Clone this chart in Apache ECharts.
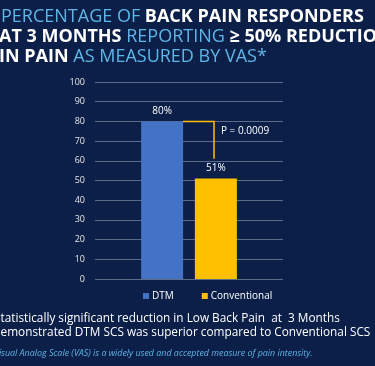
<!DOCTYPE html>
<html><head><meta charset="utf-8">
<style>html,body{margin:0;padding:0;background:#0b1f48;}#c{width:375px;height:366px;}</style>
<script src="https://cdn.jsdelivr.net/npm/echarts@6/dist/echarts.min.js"></script>
</head><body><div id="c"></div>
<script>
const categories = ['Responders'];
const seriesNames = ['DTM', 'Conventional'];
const dtmValues = [80];
const conventionalValues = [51];
const yTicks = [0, 10, 20, 30, 40, 50, 60, 70, 80, 90, 100];
const pValueText = 'P = 0.0009';
const bracketBottom = 61;
const pLabelValue = 75;

const chart = echarts.init(document.getElementById('c'), null, {renderer: 'canvas'});
const F = '"Open Sans", Lato, sans-serif';
const option = {
  backgroundColor: '#0b1f48',
  animation: false,
  grid: {left: 95, right: 92, top: 82, bottom: 87},
  legend: {
    data: seriesNames, bottom: 60, left: 138, itemWidth: 6, itemHeight: 6, itemGap: 28,
    icon: 'rect', textStyle: {color: '#ffffff', fontSize: 10, fontFamily: F, padding: [0,0,0,-2]}
  },
  xAxis: {type: 'category', data: categories, axisLine: {show: false}, axisTick: {show: false}, axisLabel: {show: false}},
  yAxis: {
    type: 'value', min: yTicks[0], max: yTicks[yTicks.length - 1], interval: 10,
    axisLine: {show: false}, axisTick: {show: false},
    axisLabel: {color: '#e6e6e6', fontSize: 9, fontFamily: F, margin: 10},
    splitLine: {lineStyle: {color: '#5b6b88', width: 1}}
  },
  series: [
    {name: seriesNames[0], type: 'bar', data: dtmValues, barWidth: 42, barGap: '28%',
     itemStyle: {color: '#4472c4'},
     label: {show: true, position: 'top', formatter: '{c}%', color: '#ffffff', fontSize: 10, fontFamily: F, distance: 5}},
    {name: seriesNames[1], type: 'bar', data: conventionalValues, barWidth: 42,
     itemStyle: {color: '#ffc000'},
     label: {show: true, position: 'top', formatter: '{c}%', color: '#ffffff', fontSize: 10, fontFamily: F, distance: 5}}
  ]
};
chart.setOption(option);

const center = chart.convertToPixel({xAxisIndex: 0}, categories[0]);
const yTop = chart.convertToPixel({yAxisIndex: 0}, dtmValues[0]);
const yBot = chart.convertToPixel({yAxisIndex: 0}, bracketBottom);
const yP = chart.convertToPixel({yAxisIndex: 0}, pLabelValue);
const x0 = center - 6, x1 = center + 6 + 21 - 2;

const titleStyle = {
  a: {fill: '#5fb6e6', fontSize: 18, fontFamily: F, fontWeight: 400},
  b: {fill: '#ffffff', fontSize: 18, fontFamily: F, fontWeight: 700}
};
chart.setOption({
  graphic: [
    {type: 'polyline', shape: {points: [[x0, yTop], [x1, yTop], [x1, yBot]]}, style: {stroke: '#ffc000', lineWidth: 1.5, fill: null}, z: 10},
    {type: 'text', x: x1 + 7, y: yP, style: {text: pValueText, fill: '#ffffff', fontSize: 10, fontFamily: F, verticalAlign: 'middle'}},
    {type: 'text', x: 1, y: 17, style: {rich: titleStyle, text: '{a|PERCENTAGE OF }{b|BACK PAIN RESPONDERS}', verticalAlign: 'middle'}},
    {type: 'text', x: -1, y: 37, style: {rich: titleStyle, text: '{b|AT 3 MONTHS }{a|REPORTING }{b|≥ 50% REDUCTION}', verticalAlign: 'middle'}},
    {type: 'text', x: -1, y: 57, style: {rich: titleStyle, text: '{b|IN PAIN }{a|AS MEASURED BY VAS*}', verticalAlign: 'middle'}},
    {type: 'text', x: -6, y: 319, style: {text: 'Statistically significant reduction in Low Back Pain  at  3 Months', fill: '#ffffff', fontSize: 11.8, fontFamily: F, verticalAlign: 'middle'}},
    {type: 'text', x: -8, y: 333, style: {text: 'Demonstrated DTM SCS was superior compared to Conventional SCS', fill: '#ffffff', fontSize: 11.8, fontFamily: F, verticalAlign: 'middle'}},
    {type: 'text', x: -6, y: 353, style: {text: 'Visual Analog Scale (VAS) is a widely used and accepted measure of pain intensity.', fill: '#5fb6e6', fontSize: 8.9, fontStyle: 'italic', fontFamily: F, verticalAlign: 'middle'}}
  ]
});
</script></body></html>
